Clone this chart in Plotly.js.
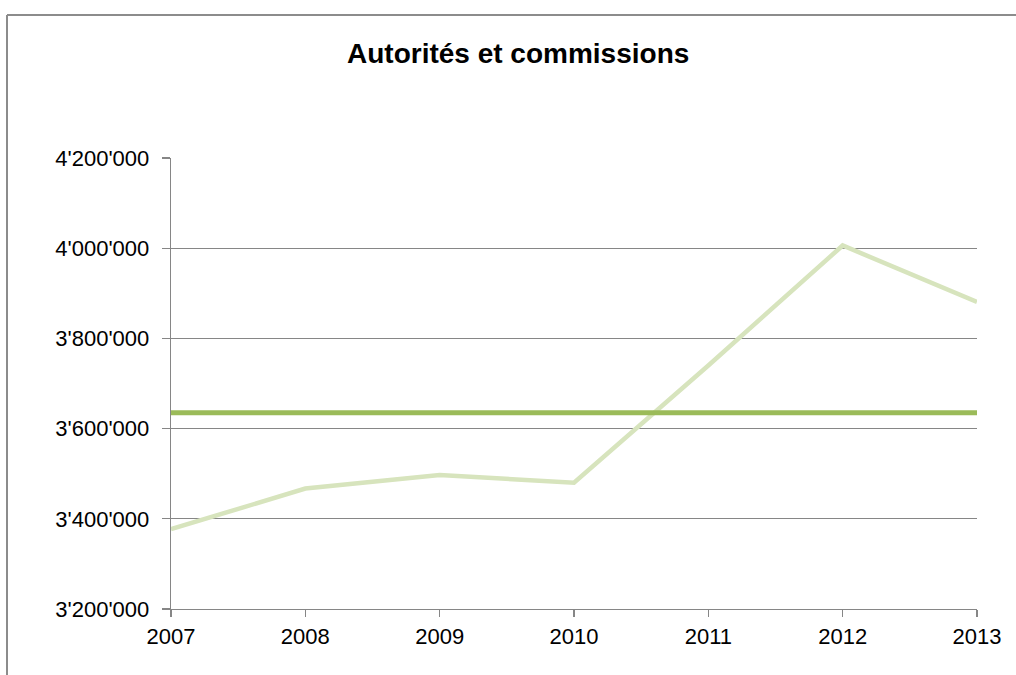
<!DOCTYPE html>
<html>
<head>
<meta charset="utf-8">
<script src="https://cdn.plot.ly/plotly-3.0.1.min.js"></script>
<style>
html,body{margin:0;padding:0;background:#fff;}
#chart{width:1016px;height:675px;}
</style>
</head>
<body>
<div id="chart"></div>
<script>
// Data
const years = [2007, 2008, 2009, 2010, 2011, 2012, 2013];
const values = [3377000, 3467000, 3497000, 3480000, 3740000, 4006000, 3881000];
const average = [3635000, 3635000, 3635000, 3635000, 3635000, 3635000, 3635000];
const yTicks = [3200000, 3400000, 3600000, 3800000, 4000000, 4200000];
const titleText = "Autorités et commissions";

const font = "Liberation Sans, Arial, sans-serif";
const grey = "#868686";

const traces = [
  {
    x: years, y: values, type: "scatter", mode: "lines",
    line: {color: "#d7e4bd", width: 4.5},
    hoverinfo: "skip", showlegend: false
  },
  {
    x: years, y: average, type: "scatter", mode: "lines",
    line: {color: "#9bbb59", width: 5},
    hoverinfo: "skip", showlegend: false
  }
];

const layout = {
  width: 1016, height: 675,
  margin: {l: 171, r: 39, t: 158, b: 66, pad: 0},
  paper_bgcolor: "#ffffff",
  plot_bgcolor: "#ffffff",
  separators: ".'",
  showlegend: false,
  font: {family: font, size: 22, color: "#000000"},
  title: {
    text: "<b>" + titleText + "</b>",
    font: {family: font, size: 28, color: "#000000"},
    x: 0.51, xanchor: "center", xref: "container",
    y: 1 - 53/675, yanchor: "middle", yref: "container"
  },
  xaxis: {
    type: "linear",
    range: [2007, 2013],
    tickmode: "array",
    tickvals: years,
    ticktext: years.map(String),
    showgrid: false, zeroline: false,
    showline: true, linecolor: grey, linewidth: 1.3,
    ticks: "outside", ticklen: 7, tickcolor: grey, tickwidth: 1.3,
    tickfont: {family: font, size: 22, color: "#000"},
    fixedrange: true, automargin: false
  },
  yaxis: {
    range: [3200000, 4200000],
    tickmode: "array",
    tickvals: yTicks,
    tickformat: ",d",
    showgrid: true, gridcolor: grey, gridwidth: 1.3,
    zeroline: false,
    showline: true, linecolor: grey, linewidth: 1.3,
    ticks: "outside", ticklen: 8, tickcolor: grey, tickwidth: 1.3,
    ticklabelstandoff: 8,
    tickfont: {family: font, size: 22, color: "#000"},
    fixedrange: true, automargin: false
  },
  shapes: [
    {type: "line", xref: "paper", yref: "paper",
     x0: (7-171)/806, x1: (7-171)/806, y0: -0.3, y1: (609-15)/451,
     line: {color: "#8c8c8c", width: 2}},
    {type: "line", xref: "paper", yref: "paper",
     x0: (7-171)/806, x1: 1.2, y0: (609-15)/451, y1: (609-15)/451,
     line: {color: "#8c8c8c", width: 2}}
  ]
};

Plotly.newPlot("chart", traces, layout, {displayModeBar: false, staticPlot: true});
</script>
</body>
</html>
